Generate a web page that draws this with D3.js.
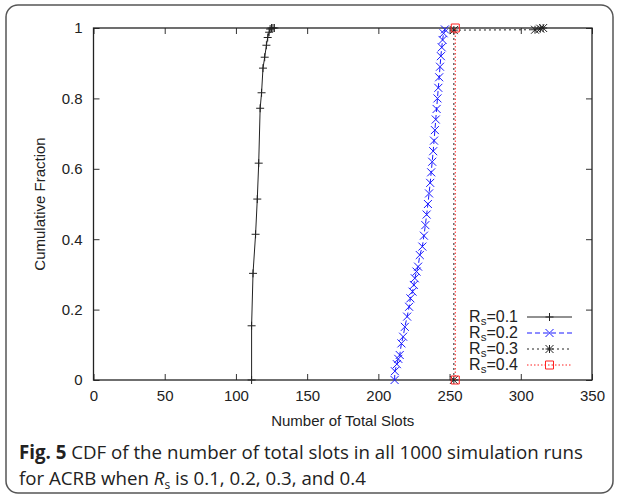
<!DOCTYPE html>
<html>
<head>
<meta charset="utf-8">
<script src="https://cdn.jsdelivr.net/npm/d3@7"></script>
<style>
  body { margin: 0; background: #fff; }
  svg text { font-family: "Liberation Sans", Arial, sans-serif; fill: #222; }
  text.caption { font-family: "Open Sans", sans-serif; }
</style>
</head>
<body>
<div id="chart"></div>
<script>
// tick values
const xTicks = [0, 50, 100, 150, 200, 250, 300, 350];
const yTicks = [0, 0.2, 0.4, 0.6, 0.8, 1];
const yTickLabels = ["0", "0.2", "0.4", "0.6", "0.8", "1"];

// series labels (subscript part kept separate)
const seriesNames = ["0.1", "0.2", "0.3", "0.4"];

// Rs = 0.1
const rs01Slots = [111, 111, 112, 113.8, 115, 116, 117, 118, 119, 120.2, 121.4, 122.3, 123.3, 124, 125, 126, 127];
const rs01Frac  = [0, 0.154, 0.303, 0.414, 0.514, 0.616, 0.772, 0.816, 0.886, 0.917, 0.951, 0.973, 0.988, 0.997, 1, 1, 1];

// Rs = 0.2
const rs02Slots = [211.4, 211.6, 213, 214, 215, 216.2, 217.4, 218.6, 220.2, 221.6, 222.5, 224, 224.9, 225.6, 226.8,
  227.9, 229.1, 230.9, 232, 233, 233.9, 234.8, 235.6, 236.4, 237.1, 237.8, 238.5, 239.1, 239.7, 240.3, 240.9,
  241.5, 242.1, 242.7, 243.3, 243.9, 244.5, 245.1, 245.8, 246.7];
const rs02Frac = [0, 0.025, 0.045, 0.06, 0.071, 0.104, 0.123, 0.151, 0.18, 0.208, 0.232, 0.251, 0.27, 0.289, 0.308,
  0.322, 0.355, 0.379, 0.41, 0.44, 0.47, 0.5, 0.53, 0.56, 0.59, 0.62, 0.65, 0.68, 0.71, 0.74, 0.77,
  0.8, 0.83, 0.86, 0.89, 0.92, 0.945, 0.966, 0.985, 0.996];

// Rs = 0.3
const rs03Slots = [253, 253, 310, 313.7, 315.7];
const rs03Frac  = [0, 0.994, 0.995, 0.998, 1];

// Rs = 0.4
const rs04Slots = [254, 254];
const rs04Frac  = [0, 1];

const W = 627, H = 499;
const plot = { left: 93.5, right: 592, top: 28, bottom: 380 };

const svg = d3.select("#chart").append("svg")
  .attr("width", W).attr("height", H);

svg.append("rect").attr("width", W).attr("height", H).attr("fill", "#fff");

// outer rounded frame
svg.append("rect")
  .attr("x", 6).attr("y", 5).attr("width", 607).attr("height", 488)
  .attr("rx", 12).attr("ry", 12)
  .attr("fill", "none").attr("stroke", "#555").attr("stroke-width", 1.5);

const x = d3.scaleLinear().domain([0, 350]).range([plot.left, plot.right]);
const y = d3.scaleLinear().domain([0, 1]).range([plot.bottom, plot.top]);

const tickLen = 6;

// axes (ticks pointing into the plot, mirrored on top/right)
const gx = svg.append("g").attr("transform", `translate(0,${plot.bottom})`)
  .call(d3.axisBottom(x).tickValues(xTicks).tickSize(-tickLen).tickPadding(10).tickFormat(d3.format("d")));
const gy = svg.append("g").attr("transform", `translate(${plot.left},0)`)
  .call(d3.axisLeft(y).tickValues(yTicks).tickSize(-tickLen).tickPadding(11)
    .tickFormat((d, i) => yTickLabels[i]));
const gxt = svg.append("g").attr("transform", `translate(0,${plot.top})`)
  .call(d3.axisTop(x).tickValues(xTicks).tickSize(-tickLen).tickFormat(""));
const gyr = svg.append("g").attr("transform", `translate(${plot.right},0)`)
  .call(d3.axisRight(y).tickValues(yTicks).tickSize(-tickLen).tickFormat(""));

[gx, gy, gxt, gyr].forEach(g => {
  g.select(".domain").remove();
  g.selectAll(".tick line").attr("stroke", "#333").attr("stroke-width", 1);
  g.selectAll("text").attr("font-size", 15).attr("fill", "#222")
    .style("font-family", "Liberation Sans, Arial, sans-serif");
});

// plot frame
svg.append("rect")
  .attr("x", plot.left).attr("y", plot.top)
  .attr("width", plot.right - plot.left).attr("height", plot.bottom - plot.top)
  .attr("fill", "none").attr("stroke", "#222").attr("stroke-width", 1.3);

// axis titles
svg.append("text")
  .attr("x", (plot.left + plot.right) / 2).attr("y", 426)
  .attr("text-anchor", "middle").attr("font-size", 15)
  .text("Number of Total Slots");

svg.append("text")
  .attr("transform", `translate(45,${(plot.top + plot.bottom) / 2}) rotate(-90)`)
  .attr("text-anchor", "middle").attr("font-size", 15)
  .text("Cumulative Fraction");

// marker paths
const sz = 4;
const markers = {
  plus: `M${-sz},0H${sz}M0,${-sz}V${sz}`,
  cross: `M${-sz},${-sz}L${sz},${sz}M${-sz},${sz}L${sz},${-sz}`,
  star: `M${-sz},0H${sz}M0,${-sz}V${sz}M${-sz},${-sz}L${sz},${sz}M${-sz},${sz}L${sz},${-sz}`,
  square: `M${-sz},${-sz}H${sz}V${sz}H${-sz}Z`
};

const series = [
  { slots: rs01Slots, frac: rs01Frac, color: "#222", dash: null, width: 1, marker: markers.plus },
  { slots: rs02Slots, frac: rs02Frac, color: "#1a1aff", dash: "5,3", width: 1, marker: markers.cross },
  { slots: rs03Slots, frac: rs03Frac, color: "#222", dash: "2,3", width: 1, marker: markers.star },
  { slots: rs04Slots, frac: rs04Frac, color: "#ff2020", dash: "1.5,2", width: 1, marker: markers.square }
];

const line = d3.line().x(d => x(d[0])).y(d => y(d[1]));

series.forEach(s => {
  const pts = s.slots.map((v, i) => [v, s.frac[i]]);
  const g = svg.append("g");
  g.append("path")
    .attr("d", line(pts))
    .attr("fill", "none").attr("stroke", s.color)
    .attr("stroke-width", s.width)
    .attr("stroke-dasharray", s.dash);
  g.selectAll("path.mk").data(pts).join("path")
    .attr("class", "mk")
    .attr("transform", d => `translate(${x(d[0])},${y(d[1])})`)
    .attr("d", s.marker)
    .attr("fill", "none").attr("stroke", s.color).attr("stroke-width", 1);
});

// legend
const legRows = [317, 333, 349, 365];
const legend = svg.append("g");
series.forEach((s, i) => {
  const t = legend.append("text")
    .attr("x", 518).attr("y", legRows[i] + 5)
    .attr("text-anchor", "end").attr("font-size", 16);
  t.append("tspan").text("R");
  t.append("tspan").attr("font-size", 11.5).attr("dy", 3).text("s");
  t.append("tspan").attr("dy", -3).text("=" + seriesNames[i]);
  legend.append("line")
    .attr("x1", 527).attr("x2", 572)
    .attr("y1", legRows[i]).attr("y2", legRows[i])
    .attr("stroke", s.color).attr("stroke-width", s.width)
    .attr("stroke-dasharray", s.dash);
  legend.append("path")
    .attr("transform", `translate(549.5,${legRows[i]})`)
    .attr("d", s.marker)
    .attr("fill", "none").attr("stroke", s.color);
});

// caption
const cap1 = svg.append("text").attr("class", "caption")
  .attr("x", 19).attr("y", 459).attr("font-size", 18.7).attr("fill", "#222");
cap1.append("tspan").attr("font-weight", "bold").text("Fig. 5");
cap1.append("tspan").text(" CDF of the number of total slots in all 1000 simulation runs");

const cap2 = svg.append("text").attr("class", "caption")
  .attr("x", 19).attr("y", 485).attr("font-size", 18.7).attr("fill", "#222");
cap2.append("tspan").text("for ACRB when ");
cap2.append("tspan").attr("font-style", "italic").text("R");
cap2.append("tspan").attr("font-size", 12).attr("dy", 4).text("s");
cap2.append("tspan").attr("dy", -4).text(" is 0.1, 0.2, 0.3, and 0.4");
</script>
</body>
</html>
